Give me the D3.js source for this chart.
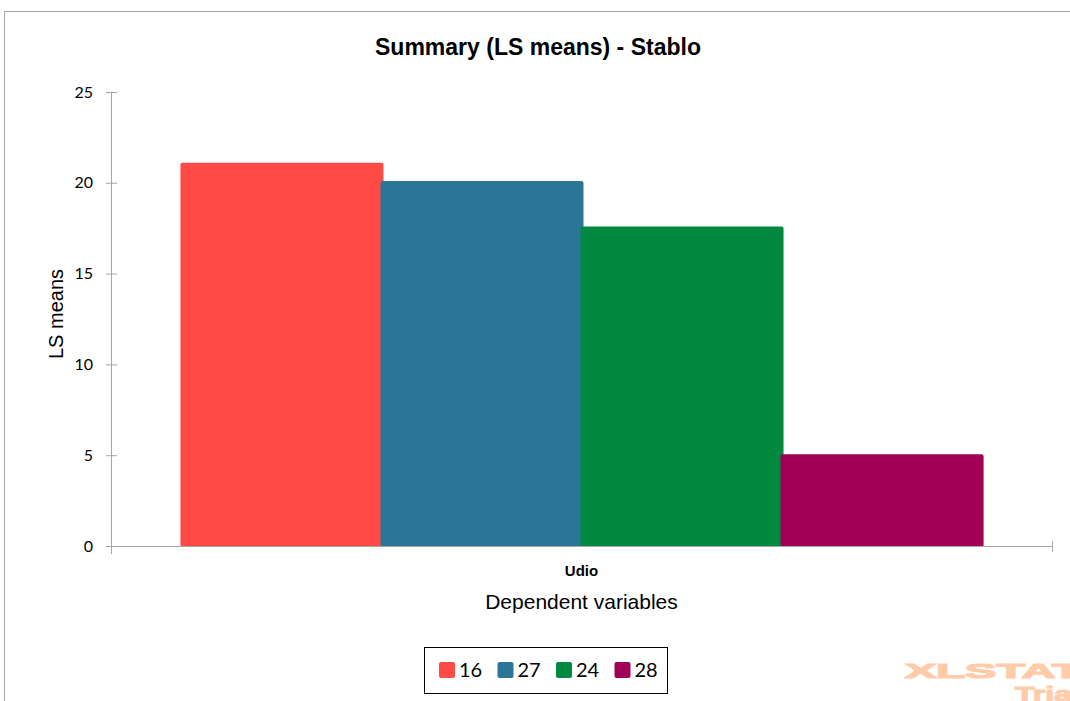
<!DOCTYPE html>
<head>
  <meta charset="utf-8">
  <script src="https://d3js.org/d3.v7.min.js"></script>
  <style>
    body { margin: 0; background: #fff; }
    svg { display: block; }
  </style>
</head>
<body>
<script>
  // chart data
  var categories = ['Udio'];
  var seriesNames = ['16', '27', '24', '28'];
  var seriesValues = [21.1, 20.1, 17.6, 5.05];
  var seriesColors = ['#FF4A46', '#2B7596', '#00893F', '#A10055'];
  var yTicks = [0, 5, 10, 15, 20, 25];

  var outerWidth = 1070, outerHeight = 701;
  var margin = { top: 92, left: 111, right: 18, bottom: 154 };
  var width = outerWidth - margin.left - margin.right,
      height = outerHeight - margin.top - margin.bottom;

  var svg = d3.select('body').append('svg')
    .attr('width', outerWidth)
    .attr('height', outerHeight);

  // outer frame (only top and left visible)
  svg.append('path')
    .attr('d', 'M4.5,' + outerHeight + 'V11.5H' + outerWidth)
    .attr('fill', 'none')
    .attr('stroke', '#a6a6a6')
    .attr('stroke-width', 1);

  var g = svg.append('g')
    .attr('transform', 'translate(' + margin.left + ',' + margin.top + ')');

  var yScale = d3.scaleLinear().domain([0, 25]).range([height - 1, 0]);
  var x0 = d3.scaleBand().domain(categories).range([0, width]).paddingInner(0).paddingOuter(0.088);
  var x1 = d3.scaleBand().domain(seriesNames).range([0, x0.bandwidth()]);
  var color = d3.scaleOrdinal().domain(seriesNames).range(seriesColors);

  // bars
  categories.forEach(function(cat) {
    g.selectAll('rect.bar')
      .data(seriesNames.map(function(s, i) { return { name: s, value: seriesValues[i] }; }))
      .enter().append('rect')
      .attr('class', 'bar')
      .attr('x', function(d) { return x0(cat) + x1(d.name) - 1; })
      .attr('y', function(d) { return yScale(d.value); })
      .attr('width', x1.bandwidth() + 3)
      .attr('height', function(d) { return yScale(0) - yScale(d.value) + 1; })
      .attr('rx', 2)
      .attr('fill', function(d) { return color(d.name); });
  });

  // y axis
  var yAxis = g.append('g')
    .call(d3.axisLeft(yScale).tickValues(yTicks).tickSize(6).tickSizeOuter(0).tickPadding(12));
  yAxis.selectAll('line').attr('stroke', '#a6a6a6').attr('x2', 6).attr('x1', -5);
  yAxis.select('.domain').attr('stroke', '#a6a6a6').attr('d', 'M0.5,' + yScale(25) + 'V' + (yScale(0) + 8));
  yAxis.selectAll('text')
    .attr('font-family', 'Lato, "Open Sans", sans-serif')
    .attr('font-size', 16)
    .attr('fill', '#000');

  // x axis
  var xAxis = g.append('g')
    .attr('transform', 'translate(0,' + yScale(0) + ')');
  xAxis.append('line')
    .attr('x1', 0).attr('x2', width + 1)
    .attr('y1', 0.5).attr('y2', 0.5)
    .attr('stroke', '#a6a6a6');
  xAxis.append('line')
    .attr('x1', width + 0.5).attr('x2', width + 0.5)
    .attr('y1', -5).attr('y2', 6)
    .attr('stroke', '#a6a6a6');
  xAxis.selectAll('text.cat')
    .data(categories).enter().append('text')
    .attr('class', 'cat')
    .attr('x', function(d) { return x0(d) + x0.bandwidth() / 2; })
    .attr('y', 30)
    .attr('text-anchor', 'middle')
    .attr('font-family', 'Liberation Sans, Arial, sans-serif')
    .attr('font-weight', 'bold')
    .attr('font-size', 15)
    .text(function(d) { return d; });

  // titles
  svg.append('text')
    .attr('x', 538).attr('y', 55)
    .attr('text-anchor', 'middle')
    .attr('font-family', 'Liberation Sans, Arial, sans-serif')
    .attr('font-weight', 'bold')
    .attr('font-size', 23)
    .text('Summary (LS means) - Stablo');

  svg.append('text')
    .attr('transform', 'translate(63,314) rotate(-90)')
    .attr('text-anchor', 'middle')
    .attr('font-family', 'Liberation Sans, Arial, sans-serif')
    .attr('font-size', 20)
    .text('LS means');

  svg.append('text')
    .attr('x', margin.left + x0('Udio') + x0.bandwidth() / 2).attr('y', 609)
    .attr('text-anchor', 'middle')
    .attr('font-family', 'Liberation Sans, Arial, sans-serif')
    .attr('font-size', 21)
    .text('Dependent variables');

  // legend
  var legend = svg.append('g').attr('transform', 'translate(424,647)');
  legend.append('rect')
    .attr('x', 0.5).attr('y', 0.5)
    .attr('width', 243).attr('height', 46)
    .attr('fill', '#fff').attr('stroke', '#000');
  var items = legend.selectAll('g.item')
    .data(seriesNames).enter().append('g')
    .attr('class', 'item')
    .attr('transform', function(d, i) { return 'translate(' + (15 + i * 58.5) + ',15)'; });
  items.append('rect')
    .attr('width', 16).attr('height', 16).attr('rx', 2)
    .attr('fill', function(d) { return color(d); });
  items.append('text')
    .attr('x', 20).attr('y', 15)
    .attr('font-family', 'Lato, "Open Sans", sans-serif')
    .attr('font-size', 20)
    .text(function(d) { return d; });

  // watermark (stretched, clipped at the right edge like the original)
  svg.append('text')
    .attr('transform', 'translate(905,678) scale(2.35,1)')
    .attr('font-family', 'Liberation Sans, Arial, sans-serif')
    .attr('font-weight', 'bold')
    .attr('font-size', 20)
    .attr('fill', '#FFCBA8')
    .attr('stroke', '#FFCBA8')
    .attr('stroke-width', 1.2)
    .text('XLSTAT');
  svg.append('text')
    .attr('transform', 'translate(1015,701) scale(1.6,1)')
    .attr('font-family', 'Liberation Sans, Arial, sans-serif')
    .attr('font-weight', 'bold')
    .attr('font-size', 20)
    .attr('fill', '#FFCBA8')
    .attr('stroke', '#FFCBA8')
    .attr('stroke-width', 1)
    .text('Tria');
</script>
</body>
